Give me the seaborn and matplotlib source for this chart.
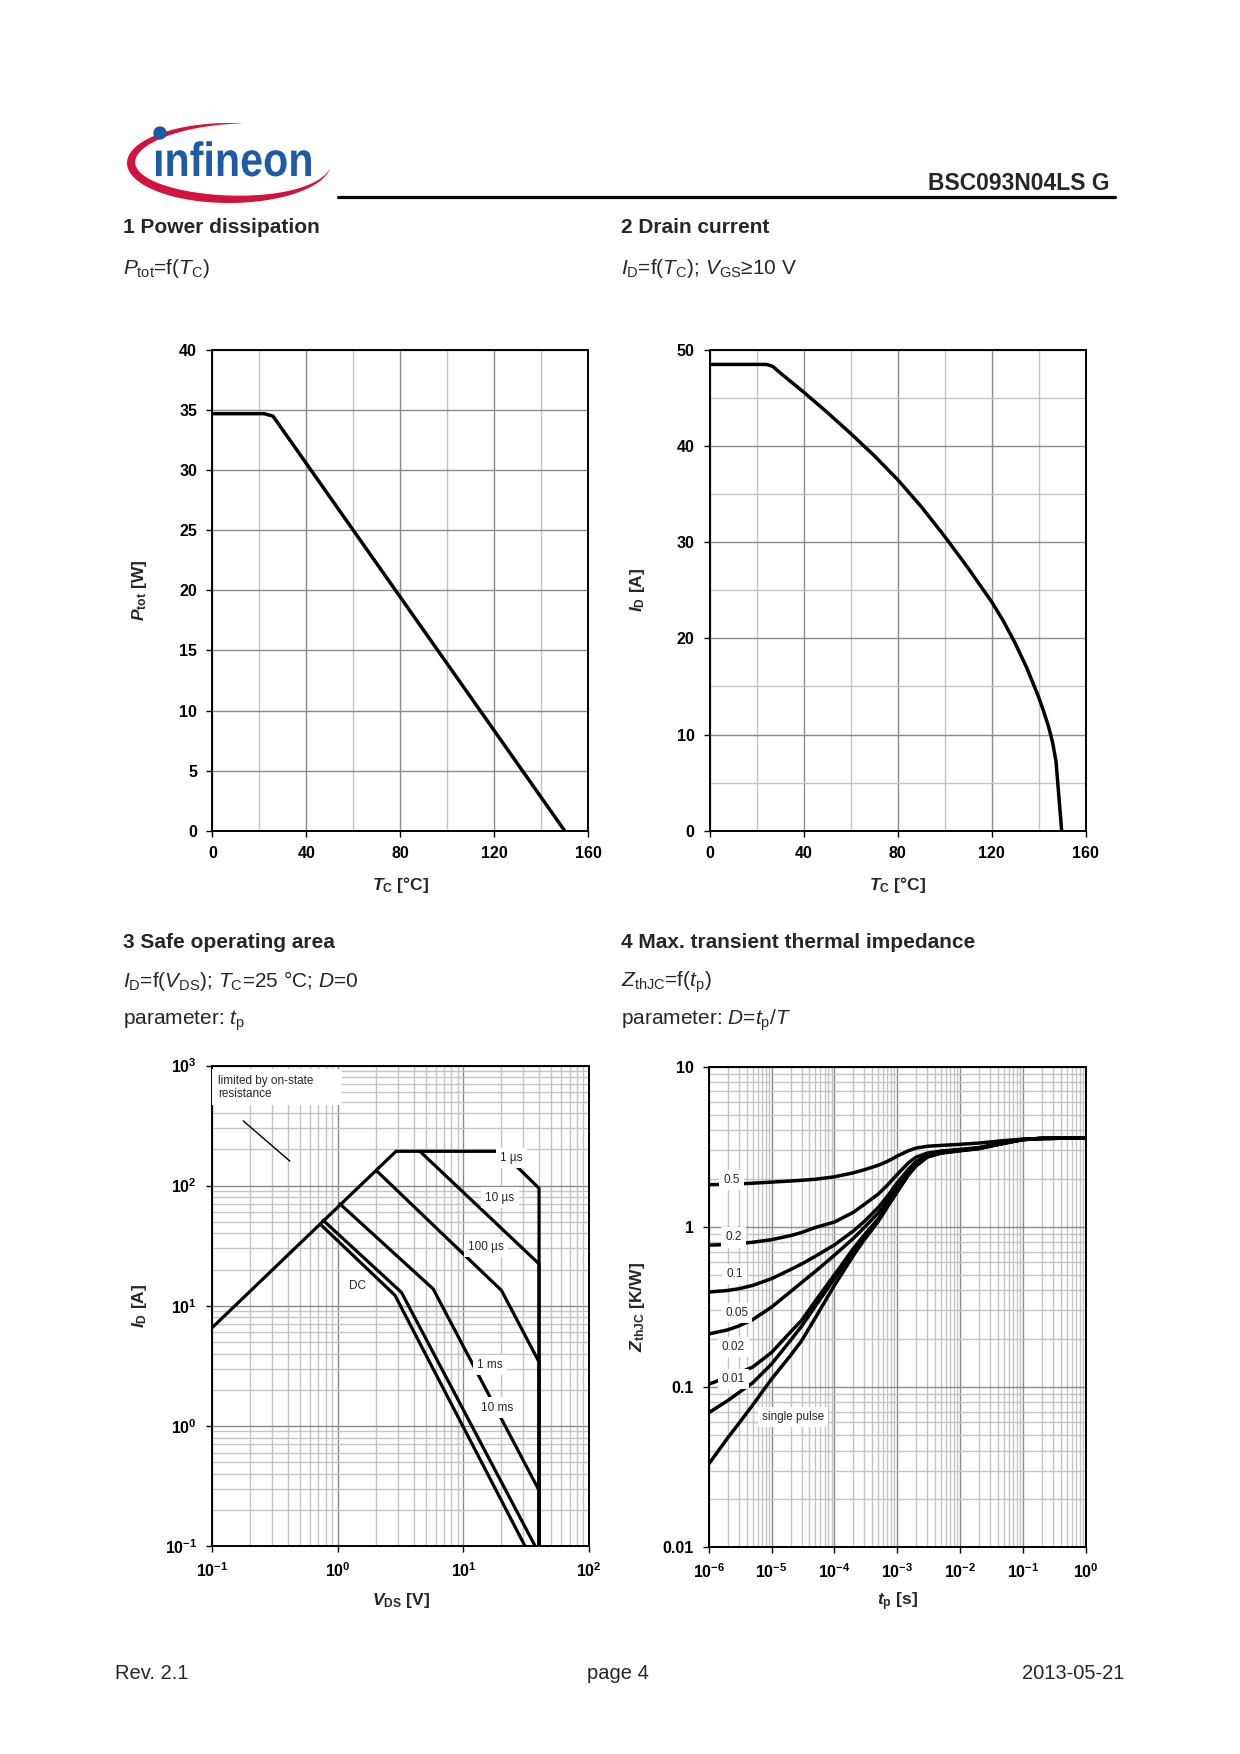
import numpy as np
import matplotlib
matplotlib.use("Agg")
import matplotlib.pyplot as plt
import seaborn as sns
from matplotlib.patches import Rectangle, Circle, PathPatch
from matplotlib.textpath import TextPath
from matplotlib.font_manager import FontProperties
from matplotlib.transforms import Affine2D

sns.set_theme(style="ticks")
plt.rcParams["font.family"] = ["Liberation Sans", "DejaVu Sans"]
plt.rcParams["mathtext.fontset"] = "custom"
plt.rcParams["mathtext.rm"] = "Liberation Sans"
plt.rcParams["mathtext.it"] = "Liberation Sans:italic"
plt.rcParams["mathtext.bf"] = "Liberation Sans:bold"
plt.rcParams["mathtext.bfit"] = "Liberation Sans:italic:bold"

# ---- data ----
# 1 power dissipation
ptot_tc = [0, 22, 25.8, 150]
ptot_w = [34.7, 34.7, 34.5, 0]

# 2 drain current
id_tc = [0, 24, 26.7, 30, 40, 50, 60, 70, 80, 90, 100, 110, 120, 125, 130,
         135, 140, 142, 144, 145, 146, 147.4, 149.8]
id_a = [48.5, 48.5, 48.3, 47.6, 45.6, 43.5, 41.3, 39.0, 36.5, 33.7, 30.6, 27.3,
        23.8, 21.8, 19.5, 16.9, 13.9, 12.5, 11.0, 10.1, 9.1, 7.2, 0]

# 3 safe operating area (V, A)
soa_rds_v = [0.1, 2.9]
soa_rds_i = [6.6, 193]
soa_1us_v = [2.9, 20, 40, 40]
soa_1us_i = [193, 193, 95, 0.1]
soa_10us_v = [4.5, 40, 40]
soa_10us_i = [193, 22.3, 0.1]
soa_100us_v = [2.03, 20.1, 40, 40]
soa_100us_i = [133, 13.4, 3.4, 0.1]
soa_1ms_v = [1.035, 5.74, 40, 40]
soa_1ms_i = [70.6, 13.8, 0.29, 0.1]
soa_10ms_v = [0.762, 3.21, 37.2]
soa_10ms_i = [51.5, 12.9, 0.1]
soa_dc_v = [0.72, 2.85, 30.9]
soa_dc_i = [48, 12.2, 0.1]
soa_labels = ["1 µs", "10 µs", "100 µs", "DC", "1 ms", "10 ms"]
soa_label_v = [24.2, 19.5, 15.1, 1.43, 16.3, 18.4]
soa_label_i = [169, 79.5, 30.8, 14.5, 3.22, 1.42]

# 4 transient thermal impedance (s, K/W)
zth_t = [1e-6, 2e-6, 3e-6, 5e-6, 1e-5, 2e-5, 3e-5, 5e-5, 1e-4, 2e-4, 3e-4, 5e-4,
         7e-4, 1e-3, 1.5e-3, 2e-3, 3e-3, 5e-3, 1e-2, 2e-2, 5e-2, 1e-1, 2e-1, 1]
zth_d05 = [1.83, 1.84, 1.85, 1.87, 1.90, 1.93, 1.95, 1.98, 2.05, 2.17, 2.27, 2.42,
           2.56, 2.76, 2.98, 3.10, 3.18, 3.22, 3.27, 3.33, 3.45, 3.52, 3.56, 3.58]
zth_d02 = [0.767, 0.775, 0.785, 0.80, 0.83, 0.88, 0.92, 0.99, 1.07, 1.23, 1.38, 1.60,
           1.82, 2.12, 2.50, 2.72, 2.88, 2.97, 3.04, 3.12, 3.36, 3.52, 3.56, 3.58]
zth_d01 = [0.391, 0.40, 0.41, 0.43, 0.474, 0.54, 0.585, 0.655, 0.77, 0.94, 1.08, 1.32,
           1.55, 1.88, 2.28, 2.55, 2.80, 2.94, 3.02, 3.10, 3.34, 3.51, 3.56, 3.58]
zth_d005 = [0.214, 0.227, 0.24, 0.263, 0.315, 0.393, 0.448, 0.527, 0.664, 0.845, 0.99, 1.22,
            1.45, 1.78, 2.20, 2.48, 2.77, 2.92, 3.01, 3.10, 3.33, 3.50, 3.56, 3.58]
zth_d002 = [0.104, 0.115, 0.122, 0.133, 0.164, 0.22, 0.26, 0.345, 0.50, 0.73, 0.89, 1.12,
            1.37, 1.68, 2.12, 2.42, 2.74, 2.90, 3.00, 3.09, 3.33, 3.50, 3.56, 3.58]
zth_d001 = [0.069, 0.082, 0.092, 0.106, 0.139, 0.195, 0.239, 0.32, 0.474, 0.70, 0.86, 1.10,
            1.35, 1.66, 2.11, 2.41, 2.73, 2.89, 2.99, 3.08, 3.32, 3.50, 3.56, 3.58]
zth_sp = [0.033, 0.048, 0.059, 0.077, 0.112, 0.157, 0.194, 0.271, 0.43, 0.66, 0.83, 1.08,
          1.33, 1.65, 2.10, 2.40, 2.72, 2.88, 2.98, 3.07, 3.32, 3.50, 3.56, 3.58]
zth_labels = ["0.5", "0.2", "0.1", "0.05", "0.02", "0.01", "single pulse"]
zth_label_t = [2.3e-6, 2.45e-6, 2.6e-6, 2.77e-6, 2.45e-6, 2.45e-6, 2.2e-5]
zth_label_z = [1.96, 0.857, 0.509, 0.288, 0.177, 0.112, 0.0648]

# ---- page layout (pixels) ----
W, H = 1240, 1754
fig = plt.figure(figsize=(W / 100, H / 100), dpi=100)


def px_rect(l, t, r, b):
    return [l / W, 1 - b / H, (r - l) / W, (b - t) / H]


page = fig.add_axes([0, 0, 1, 1])
page.set_xlim(0, W)
page.set_ylim(H, 0)
page.axis("off")

# logo: red swoosh + condensed blue lettering
cx, cy, rx, ry = 229, 163, 102, 40
phi = np.radians(np.linspace(82, 352, 200))
thick = 9 * np.sin(np.pi * (np.degrees(phi) - 82) / 270) ** 0.9
outer_x = cx + rx * np.cos(phi)
outer_y = cy - ry * np.sin(phi)
inner_x = cx + (rx - thick) * np.cos(phi)
inner_y = cy - (ry - thick) * np.sin(phi)
page.fill(np.concatenate([outer_x, inner_x[::-1]]),
          np.concatenate([outer_y, inner_y[::-1]]), color="#d2143c", lw=0)
logo_path = TextPath((0, 0), "ınfineon", size=48,
                     prop=FontProperties(family="Liberation Sans", weight="bold"))
logo_path = Affine2D().scale(0.86, -1).translate(153, 176).transform_path(logo_path)
page.add_patch(PathPatch(logo_path, color="#1f5aa6", lw=0))
page.add_patch(Circle((160, 133), 6, color="#1f5aa6"))

page.plot([338, 1115], [197, 197], color="black", lw=2.3)
page.text(1109, 190, "BSC093N04LS G", fontsize=16.5, fontweight="bold",
          ha="right", va="baseline")

head = dict(fontsize=15, fontweight="bold", va="baseline")
body = dict(fontsize=15, va="baseline")
page.text(123, 233, "1 Power dissipation", **head)
page.text(123, 274, r"$\mathit{P}_{\mathrm{tot}}$=f($\mathit{T}_{\mathrm{C}}$)", **body)
page.text(621, 233, "2 Drain current", **head)
page.text(621, 274, r"$\mathit{I}_{\mathrm{D}}$=f($\mathit{T}_{\mathrm{C}}$); "
          r"$\mathit{V}_{\mathrm{GS}}$≥10 V", **body)
page.text(123, 948, "3 Safe operating area", **head)
page.text(123, 987, r"$\mathit{I}_{\mathrm{D}}$=f($\mathit{V}_{\mathrm{DS}}$); "
          r"$\mathit{T}_{\mathrm{C}}$=25 °C; $\mathit{D}$=0", **body)
page.text(123, 1025, r"parameter: $\mathit{t}_{\mathrm{p}}$", **body)
page.text(621, 948, "4 Max. transient thermal impedance", **head)
page.text(621, 987, r"$\mathit{Z}_{\mathrm{thJC}}$=f($\mathit{t}_{\mathrm{p}}$)", **body)
page.text(621, 1025, r"parameter: $\mathit{D}$=$\mathit{t}_{\mathrm{p}}$/$\mathit{T}$", **body)

foot = dict(fontsize=14.5, va="baseline")
page.text(115, 1679, "Rev. 2.1", ha="left", **foot)
page.text(618, 1679, "page 4", ha="center", **foot)
page.text(1124, 1679, "2013-05-21", ha="right", **foot)

MAJ = "#8a8a8a"
MIN = "#c4c4c4"
CURVE = dict(color="black", linewidth=2.5, sort=False, estimator=None)


def style_axes(ax):
    ax.set_axisbelow(True)
    for s in ax.spines.values():
        s.set_visible(True)
        s.set_color("black")
        s.set_linewidth(1.4)
    ax.tick_params(which="major", direction="out", length=4, width=1,
                   pad=7, labelsize=11.5, colors="black")
    ax.tick_params(which="minor", length=0)


def set_labels(ax, xlab, ylab, ylx=-0.193):
    ax.set_xlabel(xlab, fontsize=12.5, fontweight="bold")
    ax.set_ylabel(ylab, fontsize=12.5, fontweight="bold")
    ax.xaxis.set_label_coords(0.5, -0.114)
    ax.xaxis.label.set_va("center")
    ax.yaxis.set_label_coords(ylx, 0.5)
    ax.yaxis.label.set_va("center")


box = dict(boxstyle="square,pad=0.35", fc="white", ec="none")

# ---- 1 Power dissipation ----
ax1 = fig.add_axes(px_rect(212.4, 350, 588.1, 830.7))
sns.lineplot(x=ptot_tc, y=ptot_w, ax=ax1, **CURVE)
ax1.set_xlim(0, 160)
ax1.set_ylim(0, 40)
ax1.set_xticks([0, 40, 80, 120, 160], ["0", "40", "80", "120", "160"], fontweight="bold")
ax1.set_xticks([20, 60, 100, 140], minor=True)
ax1.set_yticks(range(0, 41, 5), [str(v) for v in range(0, 41, 5)], fontweight="bold")
ax1.grid(which="major", color=MAJ, lw=1)
ax1.grid(which="minor", axis="x", color=MIN, lw=1)
style_axes(ax1)
set_labels(ax1, r"$\mathbfit{T}_{\mathbf{C}}$ [°C]", r"$\mathbfit{P}_{\mathbf{tot}}$ [W]")

# ---- 2 Drain current ----
ax2 = fig.add_axes(px_rect(710, 350, 1085.6, 830.7))
sns.lineplot(x=id_tc, y=id_a, ax=ax2, **CURVE)
ax2.set_xlim(0, 160)
ax2.set_ylim(0, 50)
ax2.set_xticks([0, 40, 80, 120, 160], ["0", "40", "80", "120", "160"], fontweight="bold")
ax2.set_xticks([20, 60, 100, 140], minor=True)
ax2.set_yticks(range(0, 51, 10), [str(v) for v in range(0, 51, 10)], fontweight="bold")
ax2.set_yticks([5, 15, 25, 35, 45], minor=True)
ax2.grid(which="major", color=MAJ, lw=1)
ax2.grid(which="minor", color=MIN, lw=1)
style_axes(ax2)
set_labels(ax2, r"$\mathbfit{T}_{\mathbf{C}}$ [°C]", r"$\mathbfit{I}_{\mathbf{D}}$ [A]", ylx=-0.194)


def log_minor(lo, hi):
    return [m * 10.0 ** e for e in range(lo, hi) for m in range(2, 10)]


# ---- 3 Safe operating area ----
ax3 = fig.add_axes(px_rect(212.4, 1065.5, 589, 1546))
ax3.set_xscale("log")
ax3.set_yscale("log")
for vv, ii in [(soa_rds_v, soa_rds_i), (soa_1us_v, soa_1us_i), (soa_10us_v, soa_10us_i),
               (soa_100us_v, soa_100us_i), (soa_1ms_v, soa_1ms_i),
               (soa_10ms_v, soa_10ms_i), (soa_dc_v, soa_dc_i)]:
    sns.lineplot(x=vv, y=ii, ax=ax3, color="black", linewidth=2.3, sort=False, estimator=None)
ax3.set_xlim(0.1, 100)
ax3.set_ylim(0.1, 1000)
ax3.set_xticks([0.1, 1, 10, 100],
               [r"$\mathbf{10^{-1}}$", r"$\mathbf{10^{0}}$", r"$\mathbf{10^{1}}$", r"$\mathbf{10^{2}}$"])
ax3.set_yticks([0.1, 1, 10, 100, 1000],
               [r"$\mathbf{10^{-1}}$", r"$\mathbf{10^{0}}$", r"$\mathbf{10^{1}}$",
                r"$\mathbf{10^{2}}$", r"$\mathbf{10^{3}}$"])
ax3.set_xticks(log_minor(-1, 2), minor=True)
ax3.set_yticks(log_minor(-1, 3), minor=True)
ax3.set_xticklabels([], minor=True)
ax3.set_yticklabels([], minor=True)
ax3.grid(which="major", color=MAJ, lw=1)
ax3.grid(which="minor", color=MIN, lw=1)
style_axes(ax3)
for lab, v, i in zip(soa_labels, soa_label_v, soa_label_i):
    ax3.text(v, i, lab, fontsize=8.5, ha="center", va="center", bbox=box, zorder=5)
ax3.add_patch(Rectangle((0.0, 0.918), 0.343, 0.075, transform=ax3.transAxes,
                        fc="white", ec="none", zorder=4))
ax3.text(0.015, 0.955, "limited by on-state\nresistance", transform=ax3.transAxes,
         fontsize=8.5, ha="left", va="center", linespacing=1.1, zorder=5)
sns.lineplot(x=[0.176, 0.414], y=[346, 160], ax=ax3, color="black", linewidth=1, sort=False)
set_labels(ax3, r"$\mathbfit{V}_{\mathbf{DS}}$ [V]", r"$\mathbfit{I}_{\mathbf{D}}$ [A]")

# ---- 4 Transient thermal impedance ----
ax4 = fig.add_axes(px_rect(708.8, 1066.6, 1085.6, 1547))
ax4.set_xscale("log")
ax4.set_yscale("log")
for zz in [zth_d05, zth_d02, zth_d01, zth_d005, zth_d002, zth_d001, zth_sp]:
    sns.lineplot(x=zth_t, y=zz, ax=ax4, **CURVE)
ax4.set_xlim(1e-6, 1)
ax4.set_ylim(0.01, 10)
ax4.set_xticks([10.0 ** e for e in range(-6, 1)],
               [r"$\mathbf{10^{%d}}$" % e for e in range(-6, 1)])
ax4.set_yticks([0.01, 0.1, 1, 10], ["0.01", "0.1", "1", "10"], fontweight="bold")
ax4.set_xticks(log_minor(-6, 0), minor=True)
ax4.set_yticks(log_minor(-2, 1), minor=True)
ax4.set_xticklabels([], minor=True)
ax4.set_yticklabels([], minor=True)
ax4.grid(which="major", color=MAJ, lw=1)
ax4.grid(which="minor", color=MIN, lw=1)
style_axes(ax4)
for lab, t, z in zip(zth_labels, zth_label_t, zth_label_z):
    ax4.text(t, z, lab, fontsize=8.5, ha="center", va="center", bbox=box, zorder=5)
set_labels(ax4, r"$\mathbfit{t}_{\mathbf{p}}$ [s]", r"$\mathbfit{Z}_{\mathbf{thJC}}$ [K/W]", ylx=-0.19)

fig.savefig("out.png", dpi=100)
